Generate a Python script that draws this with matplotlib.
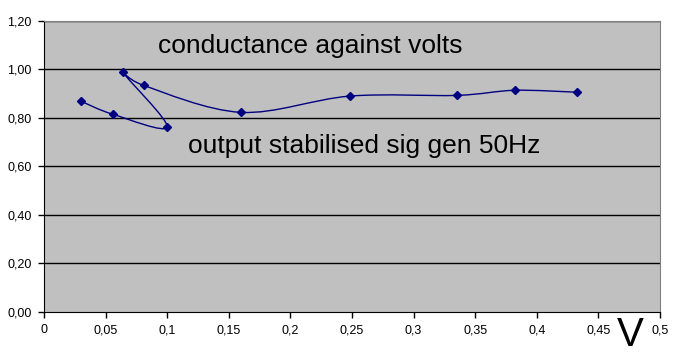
import matplotlib
matplotlib.use("Agg")
import matplotlib.pyplot as plt
from matplotlib.path import Path
from matplotlib.patches import PathPatch
import numpy as np

plt.rcParams['font.family'] = ['Liberation Sans', 'DejaVu Sans']

volts = [0.030, 0.056, 0.100, 0.064, 0.081, 0.160, 0.248, 0.335, 0.382, 0.433]
conductance = [0.868, 0.814, 0.762, 0.988, 0.933, 0.822, 0.889, 0.892, 0.913, 0.905]
x_ticks = [0, 0.05, 0.1, 0.15, 0.2, 0.25, 0.3, 0.35, 0.4, 0.45, 0.5]
x_labels = ["0", "0,05", "0,1", "0,15", "0,2", "0,25", "0,3", "0,35", "0,4", "0,45", "0,5"]
y_ticks = [0, 0.2, 0.4, 0.6, 0.8, 1.0, 1.2]
y_labels = ["0,00", "0,20", "0,40", "0,60", "0,80", "1,00", "1,20"]
title_text = "conductance against volts"
note_text = "output stabilised sig gen 50Hz"
x_unit = "V"

fig = plt.figure(figsize=(6.83, 3.55), dpi=100)
ax = fig.add_axes([44/683, 1-311.7/355, (660-44)/683, (311.7-20.7)/355])
ax.set_facecolor('#C0C0C0')
ax.set_xlim(0, 0.5)
ax.set_ylim(0, 1.2)

for yv in y_ticks[1:]:
    ax.axhline(yv, color='black', lw=1.0, zorder=1)

# smoothed line (Bezier through points)
pts = np.column_stack([volts, conductance])
n = len(pts)
verts = [tuple(pts[0])]
codes = [Path.MOVETO]
for i in range(n - 1):
    p0 = pts[i - 1] if i > 0 else pts[i]
    p1 = pts[i]
    p2 = pts[i + 1]
    p3 = pts[i + 2] if i + 2 < n else pts[i + 1]
    c1 = p1 + (p2 - p0) / 6.0
    c2 = p2 - (p3 - p1) / 6.0
    verts += [tuple(c1), tuple(c2), tuple(p2)]
    codes += [Path.CURVE4] * 3
ax.add_patch(PathPatch(Path(verts, codes), facecolor='none', edgecolor='#000080', lw=1.0, zorder=3))
ax.plot(volts, conductance, linestyle='none', marker='D', markersize=4.5,
        color='#000080', zorder=4)

ax.set_xticks(x_ticks)
ax.set_xticklabels(x_labels, fontsize=9)
ax.set_yticks(y_ticks)
ax.set_yticklabels(y_labels, fontsize=9)
ax.tick_params(axis='both', direction='out', length=4, width=1, color='black', pad=5)

for s in ['top', 'right']:
    ax.spines[s].set_color('#808080')
for s in ['left', 'bottom']:
    ax.spines[s].set_color('black')

ax.text(0.216, 1.067, title_text, fontsize=19, ha='center', va='baseline', color='black', zorder=5)
ax.text(0.26, 0.654, note_text, fontsize=19, ha='center', va='baseline', color='black', zorder=5)
fig.text(630/683, 0.5/355, x_unit, fontsize=29, ha='center', va='bottom', color='black')

fig.savefig('out.png', dpi=100)
